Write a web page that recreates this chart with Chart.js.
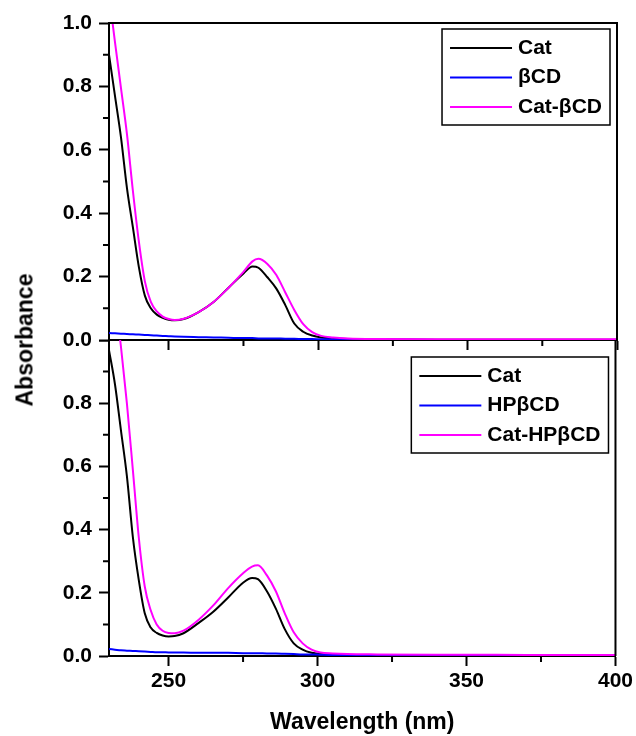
<!DOCTYPE html>
<html>
<head>
<meta charset="utf-8">
<script src="https://cdn.jsdelivr.net/npm/chart.js@4.4.0/dist/chart.umd.min.js"></script>
<style>
  body { margin: 0; background: #fff; }
  #wrap { position: relative; width: 636px; height: 736px; }
  canvas { position: absolute; left: 0; }
  #topChart { top: 0; }
  #bottomChart { top: 340px; }
  #yTitle {
    position: absolute; left: 25px; top: 340px;
    transform: translate(-50%, -50%) rotate(-90deg);
    font: bold 23px 'Liberation Sans', Arial, sans-serif;
    color: #000; white-space: nowrap;
  }
</style>
</head>
<body>
<div id="wrap">
  <canvas id="topChart" width="636" height="360"></canvas>
  <canvas id="bottomChart" width="636" height="396"></canvas>
  <div id="yTitle">Absorbance</div>
</div>
<script>
// wavelength grid (nm)
const WAVELENGTH = [230, 232, 234, 236, 238, 240, 242, 244, 246, 248, 250, 252, 255, 260, 265, 270, 275, 278, 280, 283, 286, 289, 292, 295, 298, 301, 305, 310, 320, 340, 360, 380, 400];

// top panel
const CAT_TOP   = [0.90, 0.77, 0.64, 0.48, 0.355, 0.23, 0.14, 0.10, 0.08, 0.07, 0.064, 0.062, 0.066, 0.088, 0.12, 0.165, 0.21, 0.232, 0.228, 0.198, 0.162, 0.11, 0.052, 0.026, 0.014, 0.008, 0.005, 0.003, 0.002, 0.001, 0.001, 0.001, 0.001];
const BCD       = [0.022, 0.021, 0.020, 0.019, 0.018, 0.017, 0.016, 0.015, 0.014, 0.013, 0.012, 0.011, 0.010, 0.009, 0.008, 0.007, 0.006, 0.006, 0.005, 0.005, 0.005, 0.004, 0.004, 0.003, 0.003, 0.002, 0.002, 0.001, 0.001, 0, 0, 0, 0];
const CAT_BCD   = [1.09, 0.94, 0.795, 0.65, 0.47, 0.31, 0.185, 0.12, 0.09, 0.074, 0.066, 0.063, 0.067, 0.088, 0.12, 0.165, 0.215, 0.248, 0.256, 0.24, 0.205, 0.15, 0.095, 0.05, 0.025, 0.013, 0.008, 0.005, 0.003, 0.002, 0.002, 0.002, 0.002];

// bottom panel
const CAT_BOT   = [0.968, 0.86, 0.715, 0.57, 0.377, 0.24, 0.135, 0.09, 0.073, 0.065, 0.062, 0.063, 0.072, 0.104, 0.14, 0.185, 0.232, 0.247, 0.243, 0.205, 0.15, 0.085, 0.04, 0.02, 0.01, 0.006, 0.004, 0.003, 0.002, 0.002, 0.002, 0.002, 0.002];
const HPBCD     = [0.022, 0.020, 0.018, 0.017, 0.016, 0.015, 0.014, 0.013, 0.012, 0.012, 0.011, 0.011, 0.011, 0.010, 0.010, 0.010, 0.009, 0.009, 0.009, 0.008, 0.008, 0.007, 0.006, 0.005, 0.005, 0.004, 0.003, 0.003, 0.002, 0.001, 0.001, 0.001, 0.001];
const CAT_HPBCD = [1.28, 1.13, 0.98, 0.80, 0.59, 0.375, 0.22, 0.145, 0.10, 0.08, 0.073, 0.072, 0.08, 0.114, 0.16, 0.215, 0.262, 0.283, 0.287, 0.255, 0.205, 0.135, 0.075, 0.04, 0.02, 0.011, 0.008, 0.006, 0.005, 0.004, 0.004, 0.003, 0.003];

// ticks
const X_TICKS = [250, 300, 350, 400];
const X_MINOR = [275, 325, 375];
const Y_TICKS = [0, 0.2, 0.4, 0.6, 0.8, 1.0];
const Y_MINOR = [0.1, 0.3, 0.5, 0.7, 0.9];

const FONT = "'Liberation Sans', Arial, sans-serif";
Chart.defaults.font.family = FONT;
Chart.defaults.font.weight = 'bold';
Chart.defaults.color = '#000';

function series(label, values, color, order) {
  return {
    label: label,
    data: WAVELENGTH.map((w, i) => ({ x: w, y: values[i] })),
    borderColor: color,
    borderWidth: 2,
    pointRadius: 0,
    fill: false,
    cubicInterpolationMode: 'monotone',
    order: order
  };
}

// minor ticks + right/top frame
const frame = {
  id: 'frame',
  afterDraw(chart, args, opts) {
    const ctx = chart.ctx, a = chart.chartArea;
    const xs = chart.scales.x, ys = chart.scales.y;
    ctx.save();
    ctx.strokeStyle = '#000';
    ctx.lineWidth = 2;
    ctx.beginPath();
    X_MINOR.forEach(v => {
      const px = xs.getPixelForValue(v);
      ctx.moveTo(px, a.bottom); ctx.lineTo(px, a.bottom + 6);
    });
    Y_MINOR.forEach(v => {
      const py = ys.getPixelForValue(v);
      ctx.moveTo(a.left, py); ctx.lineTo(a.left - 6, py);
    });
    ctx.moveTo(a.right, a.bottom);
    ctx.lineTo(a.right, a.top);
    if (opts.top) ctx.lineTo(a.left, a.top);
    ctx.stroke();
    ctx.restore();
  }
};

// boxed legend in the upper right corner
const boxLegend = {
  id: 'boxLegend',
  afterDraw(chart, args, opts) {
    const ctx = chart.ctx, a = chart.chartArea;
    const sets = chart.data.datasets;
    ctx.save();
    ctx.font = 'bold 21px ' + FONT;
    const textW = Math.max(...sets.map(d => ctx.measureText(d.label).width));
    const w = 8 + 62 + 6 + textW + 8;
    const h = 96;
    const left = a.right - opts.right - w;
    const top = a.top + opts.top;
    ctx.fillStyle = '#fff';
    ctx.fillRect(left, top, w, h);
    ctx.strokeStyle = '#000';
    ctx.lineWidth = 1.5;
    ctx.strokeRect(left, top, w, h);
    sets.forEach((d, i) => {
      const yy = top + 19 + i * 29.5;
      ctx.strokeStyle = d.borderColor;
      ctx.lineWidth = 2;
      ctx.beginPath();
      ctx.moveTo(left + 8, yy);
      ctx.lineTo(left + 70, yy);
      ctx.stroke();
      ctx.fillStyle = '#000';
      ctx.textBaseline = 'middle';
      ctx.fillText(d.label, left + 76, yy);
    });
    ctx.restore();
  }
};

function makeChart(id, datasets, o) {
  return new Chart(document.getElementById(id), {
    type: 'line',
    data: { datasets: datasets },
    options: {
      responsive: false,
      animation: false,
      devicePixelRatio: 1,
      layout: { padding: { top: o.padTop, right: 19, left: 0, bottom: 0 } },
      plugins: {
        legend: { display: false },
        tooltip: { enabled: false },
        frame: { top: o.frameTop },
        boxLegend: { right: 7, top: o.legendTop }
      },
      scales: {
        x: {
          type: 'linear',
          min: 230,
          max: 400,
          afterBuildTicks: s => { s.ticks = X_TICKS.map(v => ({ value: v })); },
          afterFit: s => { s.height = o.xHeight; },
          grid: { drawOnChartArea: false, tickLength: 10, tickWidth: 2, tickColor: '#000' },
          border: { color: '#000', width: 2 },
          ticks: {
            padding: 3, maxRotation: 0, autoSkip: false,
            font: { size: 21, weight: 'bold' },
            callback: v => o.xLabels ? String(v) : ''
          },
          title: {
            display: o.xLabels,
            text: 'Wavelength (nm)',
            font: { size: 23, weight: 'bold' },
            padding: { top: 0, bottom: 0 }
          }
        },
        y: {
          min: 0,
          max: 1,
          afterBuildTicks: s => { s.ticks = Y_TICKS.map(v => ({ value: v })); },
          afterFit: s => { s.width = 109; if (o.hideTop) s.paddingTop = 0; },
          grid: { drawOnChartArea: false, tickLength: 10, tickWidth: 2, tickColor: '#000' },
          border: { color: '#000', width: 2 },
          ticks: {
            padding: 7,
            font: { size: 21, weight: 'bold' },
            callback: v => (o.hideTop && v >= 1) ? '' : v.toFixed(1)
          }
        }
      }
    },
    plugins: [frame, boxLegend]
  });
}

makeChart('topChart', [
  series('Cat', CAT_TOP, '#000000', 2),
  series('\u03B2CD', BCD, '#0000ff', 1),
  series('Cat-\u03B2CD', CAT_BCD, '#ff00ff', 0)
], { padTop: 23, xHeight: 20, xLabels: false, frameTop: true, legendTop: 6, hideTop: false });

makeChart('bottomChart', [
  series('Cat', CAT_BOT, '#000000', 2),
  series('HP\u03B2CD', HPBCD, '#0000ff', 1),
  series('Cat-HP\u03B2CD', CAT_HPBCD, '#ff00ff', 0)
], { padTop: 0, xHeight: 80, xLabels: true, frameTop: false, legendTop: 17, hideTop: true });
</script>
</body>
</html>
